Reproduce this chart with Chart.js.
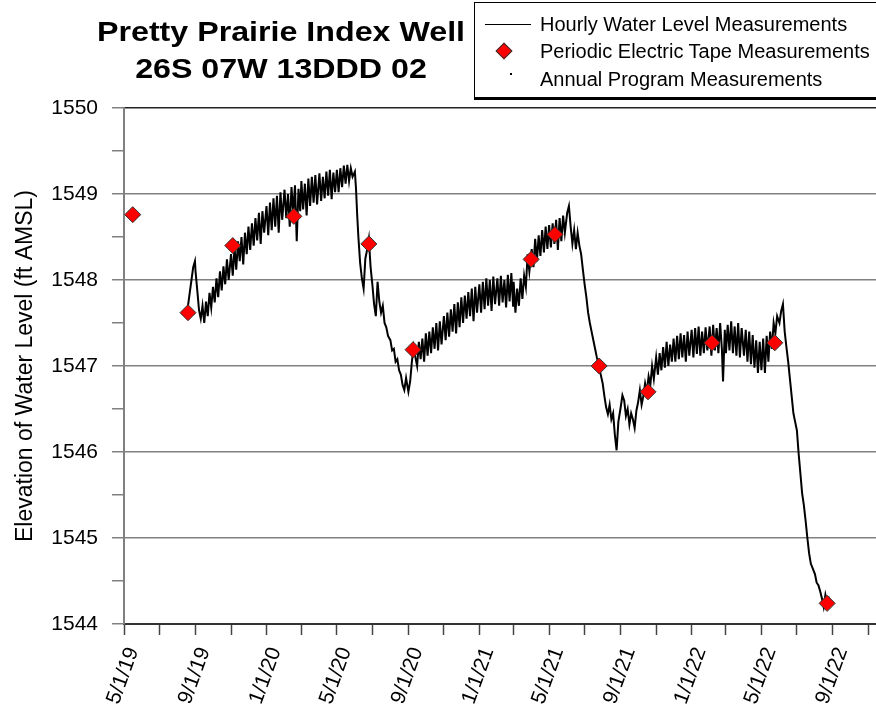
<!DOCTYPE html>
<html>
<head>
<meta charset="utf-8">
<script src="https://cdn.jsdelivr.net/npm/chart.js@4"></script>
<style>
  body { margin: 0; background: #fff; font-family: "Liberation Sans", Arial, sans-serif; }
  #wrap { position: relative; width: 876px; height: 717px; overflow: hidden; }
  #title { position: absolute; left: 71px; top: 13px; width: 420px; text-align: center;
           font-weight: bold; font-size: 28px; line-height: 37px; color: #000;
           transform: scaleX(1.15); transform-origin: center; }
  #legend { position: absolute; left: 474px; top: 2px; width: 430px; height: 94px;
            border: 1px solid #000; box-shadow: 0 2px 0 #000; background: #fff; }
  .row { position: absolute; left: 65px; font-size: 20px; color: #000; white-space: nowrap; }
  .sw { position: absolute; }
</style>
</head>
<body>
<div id="wrap">
  <canvas id="chart" width="876" height="717"></canvas>
  <div id="title">Pretty Prairie Index Well<br>26S 07W 13DDD 02</div>
  <div id="legend">
    <div class="sw" style="left:10px;top:21px;width:46px;height:0;border-top:1px solid #000"></div>
    <div class="row" style="top:10px">Hourly Water Level Measurements</div>
    <div class="sw" style="left:23px;top:42px;width:10px;height:10px;background:#f00;border:1px solid #333;transform:rotate(45deg)"></div>
    <div class="row" style="top:37px">Periodic Electric Tape Measurements</div>
    <div class="sw" style="left:35px;top:70px;width:2px;height:2px;background:#000"></div>
    <div class="row" style="top:65px">Annual Program Measurements</div>
  </div>
</div>
<script>
// hourly transducer readings (date, ft AMSL)
const hourly2019 = [
  ['2019-08-17',1547.62],['2019-08-19',1547.70],['2019-08-22',1547.85],['2019-08-25',1548.00],['2019-08-28',1548.15],['2019-08-31',1548.22],
  ['2019-09-01',1548.10],['2019-09-04',1547.88],['2019-09-07',1547.65],['2019-09-10',1547.55],['2019-09-13',1547.70],
  ['2019-09-16',1547.50],['2019-09-19',1547.75],['2019-09-22',1547.58],['2019-09-25',1547.85],['2019-09-28',1547.68],
  ['2019-10-01',1547.92],['2019-10-04',1547.74],['2019-10-07',1548.02],['2019-10-10',1547.80],['2019-10-13',1548.10],
  ['2019-10-16',1547.88],['2019-10-19',1548.16],['2019-10-22',1547.95],['2019-10-25',1548.24],['2019-10-28',1548.00],
  ['2019-11-01',1548.30],['2019-11-04',1548.05],['2019-11-07',1548.38],['2019-11-10',1548.12],['2019-11-13',1548.45],
  ['2019-11-16',1548.22],['2019-11-19',1548.50],['2019-11-22',1548.18],['2019-11-25',1548.55],['2019-11-28',1548.30],
  ['2019-12-01',1548.62],['2019-12-04',1548.35],['2019-12-07',1548.66],['2019-12-10',1548.40],['2019-12-13',1548.72],
  ['2019-12-16',1548.46],['2019-12-19',1548.78],['2019-12-22',1548.42],['2019-12-25',1548.80],['2019-12-28',1548.55]
];
const hourly2020 = [
  ['2020-01-01',1548.86],['2020-01-04',1548.52],['2020-01-07',1548.90],['2020-01-10',1548.58],['2020-01-13',1548.95],
  ['2020-01-16',1548.62],['2020-01-19',1548.98],['2020-01-22',1548.55],['2020-01-25',1549.02],['2020-01-28',1548.70],
  ['2020-02-01',1549.05],['2020-02-04',1548.72],['2020-02-07',1549.00],['2020-02-10',1548.62],['2020-02-13',1549.08],
  ['2020-02-16',1548.78],['2020-02-19',1549.10],['2020-02-22',1548.45],['2020-02-25',1549.06],['2020-02-28',1548.80],
  ['2020-03-01',1549.15],['2020-03-04',1548.82],['2020-03-07',1549.12],['2020-03-10',1548.75],['2020-03-13',1549.18],
  ['2020-03-16',1548.86],['2020-03-19',1549.20],['2020-03-22',1548.90],['2020-03-25',1549.22],['2020-03-28',1548.88],
  ['2020-04-01',1549.24],['2020-04-04',1548.92],['2020-04-07',1549.20],['2020-04-10',1548.95],['2020-04-13',1549.26],
  ['2020-04-16',1548.98],['2020-04-19',1549.28],['2020-04-22',1548.94],['2020-04-25',1549.25],['2020-04-28',1549.02],
  ['2020-05-01',1549.28],['2020-05-04',1549.02],['2020-05-07',1549.30],['2020-05-10',1549.08],['2020-05-13',1549.33],
  ['2020-05-16',1549.12],['2020-05-19',1549.34],['2020-05-22',1549.15],['2020-05-25',1549.30],['2020-05-28',1549.20],
  ['2020-06-01',1549.26],['2020-06-03',1549.05],['2020-06-05',1548.75],['2020-06-07',1548.50],['2020-06-10',1548.20],
  ['2020-06-13',1548.02],['2020-06-16',1547.90],['2020-06-19',1548.25],['2020-06-22',1548.35],['2020-06-25',1548.48],['2020-06-28',1548.15],
  ['2020-07-01',1547.95],['2020-07-04',1547.72],['2020-07-07',1547.58],['2020-07-10',1547.98],['2020-07-13',1547.75],
  ['2020-07-16',1547.62],['2020-07-19',1547.70],['2020-07-22',1547.50],['2020-07-25',1547.45],['2020-07-28',1547.35],
  ['2020-08-01',1547.30],['2020-08-04',1547.18],['2020-08-07',1547.20],['2020-08-10',1547.05],['2020-08-13',1547.08],
  ['2020-08-16',1546.95],['2020-08-19',1546.90],['2020-08-22',1546.78],['2020-08-25',1546.72],['2020-08-28',1546.86],
  ['2020-09-01',1546.70],['2020-09-04',1546.82],['2020-09-07',1547.05],['2020-09-10',1547.22],['2020-09-13',1547.10],
  ['2020-09-16',1547.00],['2020-09-19',1547.28],['2020-09-22',1547.08],['2020-09-25',1547.32],['2020-09-28',1547.05],
  ['2020-10-01',1547.38],['2020-10-04',1547.12],['2020-10-07',1547.40],['2020-10-10',1547.15],['2020-10-13',1547.45],
  ['2020-10-16',1547.20],['2020-10-19',1547.50],['2020-10-22',1547.18],['2020-10-25',1547.52],['2020-10-28',1547.25],
  ['2020-11-01',1547.58],['2020-11-04',1547.30],['2020-11-07',1547.62],['2020-11-10',1547.34],['2020-11-13',1547.66],
  ['2020-11-16',1547.40],['2020-11-19',1547.72],['2020-11-22',1547.38],['2020-11-25',1547.74],['2020-11-28',1547.45],
  ['2020-12-01',1547.80],['2020-12-04',1547.50],['2020-12-07',1547.82],['2020-12-10',1547.55],['2020-12-13',1547.86],
  ['2020-12-16',1547.58],['2020-12-19',1547.90],['2020-12-22',1547.52],['2020-12-25',1547.92],['2020-12-28',1547.62]
];
const hourly2021 = [
  ['2021-01-01',1547.95],['2021-01-04',1547.62],['2021-01-07',1547.98],['2021-01-10',1547.66],['2021-01-13',1548.02],
  ['2021-01-16',1547.70],['2021-01-19',1548.00],['2021-01-22',1547.64],['2021-01-25',1548.04],['2021-01-28',1547.72],
  ['2021-02-01',1548.02],['2021-02-04',1547.70],['2021-02-07',1548.05],['2021-02-10',1547.74],['2021-02-13',1548.00],
  ['2021-02-16',1547.68],['2021-02-19',1548.06],['2021-02-22',1547.75],['2021-02-25',1548.08],['2021-02-28',1547.70],
  ['2021-03-01',1547.98],['2021-03-04',1547.62],['2021-03-07',1547.90],['2021-03-10',1547.70],['2021-03-13',1548.02],
  ['2021-03-16',1547.78],['2021-03-19',1548.05],['2021-03-22',1547.92],['2021-03-25',1548.30],['2021-03-28',1548.10],
  ['2021-04-01',1548.36],['2021-04-04',1548.15],['2021-04-07',1548.48],['2021-04-10',1548.22],['2021-04-13',1548.52],
  ['2021-04-16',1548.28],['2021-04-19',1548.58],['2021-04-22',1548.32],['2021-04-25',1548.62],['2021-04-28',1548.36],
  ['2021-05-01',1548.64],['2021-05-04',1548.38],['2021-05-07',1548.66],['2021-05-10',1548.42],['2021-05-13',1548.70],
  ['2021-05-16',1548.35],['2021-05-19',1548.72],['2021-05-22',1548.45],['2021-05-25',1548.75],['2021-05-28',1548.55],
  ['2021-06-01',1548.78],['2021-06-04',1548.86],['2021-06-07',1548.62],['2021-06-10',1548.42],['2021-06-13',1548.58],
  ['2021-06-16',1548.36],['2021-06-19',1548.55],['2021-06-22',1548.40],['2021-06-25',1548.30],['2021-06-28',1548.12],
  ['2021-07-01',1547.95],['2021-07-04',1547.80],['2021-07-07',1547.62],['2021-07-10',1547.50],['2021-07-13',1547.40],
  ['2021-07-16',1547.30],['2021-07-19',1547.20],['2021-07-22',1547.10],['2021-07-25',1547.02],['2021-07-28',1546.92],
  ['2021-08-01',1546.80],['2021-08-04',1546.65],['2021-08-07',1546.52],['2021-08-10',1546.44],['2021-08-13',1546.55],
  ['2021-08-16',1546.38],['2021-08-19',1546.45],['2021-08-22',1546.20],['2021-08-25',1546.02],['2021-08-28',1546.35],
  ['2021-09-01',1546.52],['2021-09-04',1546.66],['2021-09-07',1546.60],['2021-09-10',1546.42],['2021-09-13',1546.50],
  ['2021-09-16',1546.32],['2021-09-19',1546.45],['2021-09-22',1546.38],['2021-09-25',1546.28],['2021-09-28',1546.48],
  ['2021-10-01',1546.58],['2021-10-04',1546.72],['2021-10-07',1546.55],['2021-10-10',1546.65],['2021-10-13',1546.80],
  ['2021-10-16',1546.70],['2021-10-19',1546.88],['2021-10-22',1546.78],['2021-10-25',1547.00],['2021-10-28',1546.85],
  ['2021-11-01',1547.10],['2021-11-04',1546.90],['2021-11-07',1547.15],['2021-11-10',1546.95],['2021-11-13',1547.22],
  ['2021-11-16',1546.98],['2021-11-19',1547.28],['2021-11-22',1547.00],['2021-11-25',1547.25],['2021-11-28',1547.05],
  ['2021-12-01',1547.32],['2021-12-04',1547.05],['2021-12-07',1547.35],['2021-12-10',1547.08],['2021-12-13',1547.38],
  ['2021-12-16',1547.10],['2021-12-19',1547.36],['2021-12-22',1547.05],['2021-12-25',1547.40],['2021-12-28',1547.12]
];
const hourly2022 = [
  ['2022-01-01',1547.42],['2022-01-04',1547.10],['2022-01-07',1547.44],['2022-01-10',1547.14],['2022-01-13',1547.46],
  ['2022-01-16',1547.12],['2022-01-19',1547.40],['2022-01-22',1547.15],['2022-01-25',1547.45],['2022-01-28',1547.18],
  ['2022-02-01',1547.46],['2022-02-04',1547.12],['2022-02-07',1547.48],['2022-02-10',1547.18],['2022-02-13',1547.44],
  ['2022-02-16',1547.15],['2022-02-19',1547.50],['2022-02-22',1547.20],['2022-02-24',1546.82],['2022-02-27',1547.42],
  ['2022-03-01',1547.15],['2022-03-04',1547.48],['2022-03-07',1547.18],['2022-03-10',1547.52],['2022-03-13',1547.15],
  ['2022-03-16',1547.46],['2022-03-19',1547.12],['2022-03-22',1547.50],['2022-03-25',1547.10],['2022-03-28',1547.44],
  ['2022-04-01',1547.12],['2022-04-04',1547.42],['2022-04-07',1547.05],['2022-04-10',1547.40],['2022-04-13',1547.02],
  ['2022-04-16',1547.36],['2022-04-19',1546.98],['2022-04-22',1547.30],['2022-04-25',1546.92],['2022-04-28',1547.28],
  ['2022-05-01',1546.95],['2022-05-04',1547.32],['2022-05-07',1546.92],['2022-05-10',1547.35],['2022-05-13',1547.05],
  ['2022-05-16',1547.40],['2022-05-19',1547.20],['2022-05-22',1547.50],['2022-05-25',1547.38],['2022-05-28',1547.58],
  ['2022-06-01',1547.50],['2022-06-04',1547.64],['2022-06-07',1547.72],['2022-06-10',1547.40],['2022-06-13',1547.22],
  ['2022-06-16',1547.05],['2022-06-19',1546.85],['2022-06-22',1546.65],['2022-06-25',1546.45],['2022-06-28',1546.35],
  ['2022-07-01',1546.25],['2022-07-04',1545.98],['2022-07-07',1545.75],['2022-07-10',1545.52],['2022-07-13',1545.38],
  ['2022-07-16',1545.20],['2022-07-19',1545.00],['2022-07-22',1544.82],['2022-07-25',1544.70],['2022-07-28',1544.65],
  ['2022-08-01',1544.58],['2022-08-04',1544.48],['2022-08-07',1544.45],['2022-08-10',1544.38],['2022-08-13',1544.30],
  ['2022-08-16',1544.20],['2022-08-19',1544.34],['2022-08-22',1544.25],['2022-08-25',1544.32]
];

// periodic electric tape measurements
const tapeLevels = [
  ['2019-05-16',1548.76],['2019-08-19',1547.62],['2019-11-04',1548.40],['2020-02-17',1548.74],['2020-06-25',1548.42],
  ['2020-09-09',1547.19],['2021-03-31',1548.24],['2021-05-11',1548.53],['2021-07-26',1547.00],['2021-10-18',1546.70],
  ['2022-02-05',1547.27],['2022-05-24',1547.27],['2022-08-22',1544.24]
];

const xMajorTicks = ['2019-05-01','2019-09-01','2020-01-01','2020-05-01','2020-09-01','2021-01-01',
                     '2021-05-01','2021-09-01','2022-01-01','2022-05-01','2022-09-01'];
const xMinorTicks = ['2019-07-01','2019-11-01','2020-03-01','2020-07-01','2020-11-01','2021-03-01',
                     '2021-07-01','2021-11-01','2022-03-01','2022-07-01','2022-11-01'];
const xStart = '2019-05-01';
const xEnd = '2022-11-14';
const yMin = 1544, yMax = 1550;

const toPts = arr => arr.map(([d, v]) => ({ x: Date.parse(d), y: v }));
const hourly = toPts([...hourly2019, ...hourly2020, ...hourly2021, ...hourly2022]);
const tape = toPts(tapeLevels);

const majorSet = new Set(xMajorTicks.map(d => Date.parse(d)));
const allTicks = [...xMajorTicks, ...xMinorTicks].map(d => Date.parse(d)).sort((a, b) => a - b);

function fmtDate(ms) {
  const d = new Date(ms);
  return (d.getUTCMonth() + 1) + '/' + d.getUTCDate() + '/' + String(d.getUTCFullYear()).slice(2);
}

Chart.defaults.font.family = '"Liberation Sans", Arial, sans-serif';
Chart.defaults.color = '#000';

new Chart(document.getElementById('chart').getContext('2d'), {
  type: 'line',
  data: {
    datasets: [
      {
        label: 'Periodic Electric Tape Measurements',
        data: tape,
        showLine: false,
        pointStyle: 'rectRot',
        pointRadius: 8,
        backgroundColor: '#ff0000',
        borderColor: '#333',
        borderWidth: 1,
        order: 0
      },
      {
        label: 'Hourly Water Level Measurements',
        data: hourly,
        borderColor: '#000',
        borderWidth: 2,
        pointRadius: 0,
        tension: 0,
        order: 1
      }
    ]
  },
  options: {
    responsive: false,
    animation: false,
    devicePixelRatio: 1,
    layout: { autoPadding: false, padding: { top: 108, left: 0, right: 0, bottom: 0 } },
    plugins: { legend: { display: false }, tooltip: { enabled: false } },
    scales: {
      x: {
        type: 'linear',
        min: Date.parse(xStart),
        max: Date.parse(xEnd),
        afterBuildTicks: scale => { scale.ticks = allTicks.map(v => ({ value: v })); },
        afterFit: scale => { scale.height = 93; scale.paddingLeft = 0; scale.paddingRight = 0; },
        ticks: {
          autoSkip: false,
          maxRotation: 70,
          minRotation: 70,
          padding: 9,
          labelOffset: 9,
          font: { size: 21 },
          callback: v => majorSet.has(v) ? fmtDate(v) : ''
        },
        grid: { drawOnChartArea: false, drawTicks: true, tickLength: 11, tickColor: '#444', tickWidth: 1.5 },
        border: { color: '#333', width: 2 }
      },
      y: {
        min: yMin,
        max: yMax,
        ticks: {
          stepSize: 0.5,
          padding: 14,
          font: { size: 21 },
          callback: v => Number.isInteger(v) ? String(v) : ''
        },
        afterFit: scale => { scale.width = 124; },
        grid: {
          tickLength: 12,
          lineWidth: 1.5,
          tickColor: '#808080',
          color: c => !Number.isInteger(c.tick.value) ? 'rgba(0,0,0,0)' : (c.tick.value === yMax ? '#222' : '#808080')
        },
        border: { color: '#808080', width: 2 },
        title: {
          display: true,
          text: 'Elevation of Water Level (ft AMSL)',
          font: { size: 23 },
          color: '#000',
          padding: { top: 12, bottom: 0 }
        }
      }
    }
  }
});
</script>
</body>
</html>
